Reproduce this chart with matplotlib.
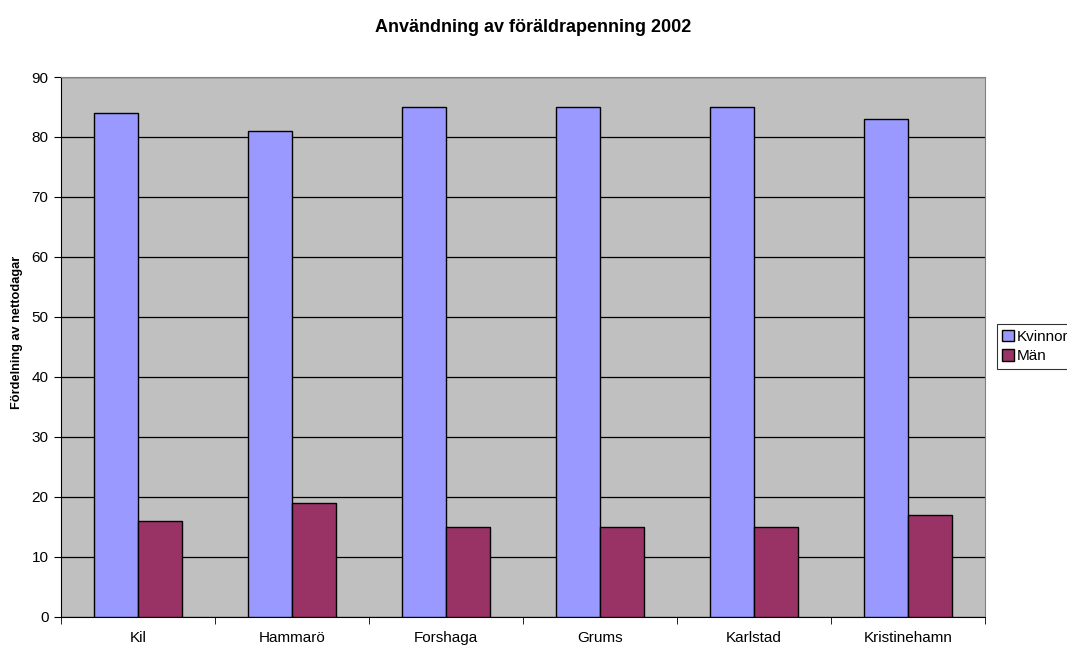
import numpy as np
import matplotlib.pyplot as plt
from matplotlib.patches import Patch

kommuner = ['Kil', 'Hammarö', 'Forshaga', 'Grums', 'Karlstad', 'Kristinehamn']
kvinnor = [84, 81, 85, 85, 85, 83]
man = [16, 19, 15, 15, 15, 17]

plt.rcParams['font.family'] = ['Liberation Sans', 'DejaVu Sans']

fig = plt.figure(figsize=(10.67, 6.46), dpi=100)
ax = fig.add_axes([0.0572, 0.0454, 0.8658, 0.8354])
ax.set_facecolor('#C0C0C0')

x = np.arange(len(kommuner))
w = 0.288
ax.bar(x - w / 2, kvinnor, width=w, color='#9999FF', edgecolor='black', linewidth=1, zorder=3)
ax.bar(x + w / 2, man, width=w, color='#993366', edgecolor='black', linewidth=1, zorder=3)

ax.set_ylim(0, 90)
ax.set_yticks(np.arange(0, 91, 10))
ax.yaxis.grid(True, color='black', linewidth=0.9, zorder=0)
ax.set_axisbelow(True)
ax.set_xlim(-0.5, len(kommuner) - 0.5)
ax.set_xticks(x)
ax.set_xticklabels(kommuner)
ax.set_xticks(np.arange(-0.5, len(kommuner)), minor=True)
ax.tick_params(axis='x', which='major', length=0, pad=10, labelsize=11)
ax.tick_params(axis='x', which='minor', length=5, direction='out', color='black')
ax.tick_params(axis='y', length=5, direction='out', labelsize=11, pad=4)

for s in ['top', 'right']:
    ax.spines[s].set_color('#808080')
ax.spines['left'].set_color('black')
ax.spines['bottom'].set_color('black')

ax.set_ylabel('Fördelning av nettodagar', fontsize=9.2, fontweight='bold')
ax.yaxis.set_label_coords(-0.041, 0.527)
fig.text(0.5, 0.957, 'Användning av föräldrapenning 2002', fontsize=13, fontweight='bold',
         ha='center', va='center')

handles = [Patch(facecolor='#9999FF', edgecolor='black'), Patch(facecolor='#993366', edgecolor='black')]
leg = fig.legend(handles, ['Kvinnor', 'Män'], loc='center left', bbox_to_anchor=(0.934, 0.4636),
                 fontsize=11, frameon=True, fancybox=False, edgecolor='black',
                 handlelength=0.8, handleheight=0.8, handletextpad=0.15, borderpad=0.35,
                 labelspacing=0.35, borderaxespad=0)
leg.get_frame().set_linewidth(0.8)

plt.savefig('out.png')
